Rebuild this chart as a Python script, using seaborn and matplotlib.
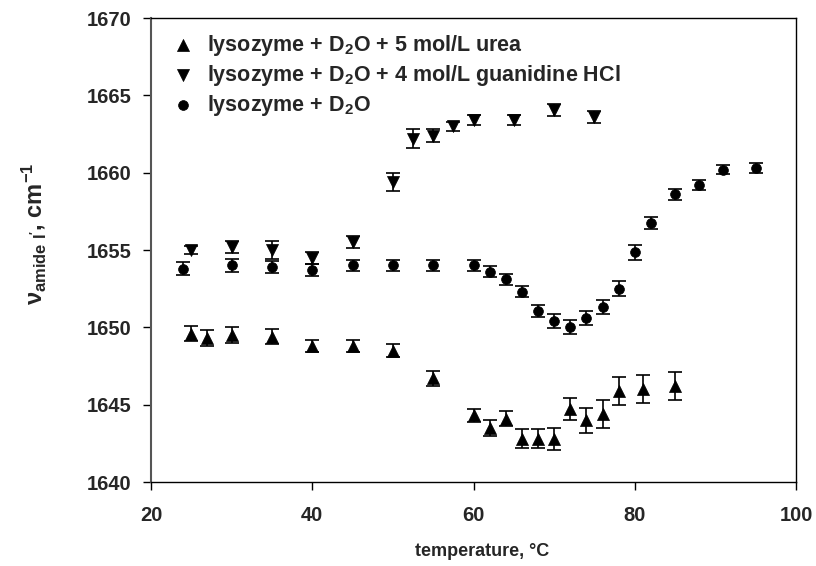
import matplotlib
matplotlib.use("Agg")
import matplotlib.pyplot as plt
import seaborn as sns
import numpy as np
import pandas as pd

# ---- data ----
t_urea = [25, 27, 30, 35, 40, 45, 50, 55, 60, 62, 64, 66, 68, 70, 72, 74, 76, 78, 81, 85]
v_urea = [1649.6, 1649.3, 1649.5, 1649.4, 1648.8, 1648.8, 1648.5, 1646.7, 1644.3, 1643.5,
          1644.1, 1642.8, 1642.8, 1642.8, 1644.7, 1644.0, 1644.4, 1645.9, 1646.0, 1646.2]
e_urea = [0.5, 0.5, 0.5, 0.5, 0.37, 0.37, 0.4, 0.5, 0.45, 0.5,
          0.5, 0.6, 0.6, 0.7, 0.7, 0.8, 0.9, 0.9, 0.9, 0.9]

t_gdn = [25, 30, 35, 40, 45, 50, 52.5, 55, 57.5, 60, 65, 70, 75]
v_gdn = [1655.0, 1655.2, 1655.0, 1654.5, 1655.5, 1659.4, 1662.2, 1662.4, 1663.0, 1663.4,
         1663.4, 1664.05, 1663.6]
e_gdn = [0.25, 0.4, 0.55, 0.4, 0.4, 0.6, 0.6, 0.4, 0.3, 0.3, 0.3, 0.4, 0.4]

t_d2o = [24, 30, 35, 40, 45, 50, 55, 60, 62, 64, 66, 68, 70, 72, 74, 76, 78, 80, 82, 85, 88, 91, 95]
v_d2o = [1653.8, 1654.0, 1653.9, 1653.7, 1654.0, 1654.0, 1654.0, 1654.0, 1653.6, 1653.1,
         1652.3, 1651.05, 1650.4, 1650.05, 1650.6, 1651.3, 1652.5, 1654.85, 1656.75,
         1658.6, 1659.2, 1660.2, 1660.3]
e_d2o = [0.4, 0.4, 0.4, 0.4, 0.35, 0.35, 0.35, 0.35, 0.35, 0.35,
         0.35, 0.4, 0.45, 0.45, 0.45, 0.45, 0.5, 0.5, 0.4, 0.35, 0.3, 0.3, 0.3]

labels = [r"lysozyme + D$_{\mathrm{2}}$O + 5 mol/L urea",
          r"lysozyme + D$_{\mathrm{2}}$O + 4 mol/L guanidine HCl",
          r"lysozyme + D$_{\mathrm{2}}$O"]
x_ticks = [20, 40, 60, 80, 100]
y_ticks = [1640, 1645, 1650, 1655, 1660, 1665, 1670]

sns.set_style("ticks")
plt.rcParams['font.family'] = ['Liberation Sans', 'DejaVu Sans']
plt.rcParams['font.weight'] = 'bold'
plt.rcParams['mathtext.fontset'] = 'custom'
plt.rcParams['mathtext.rm'] = 'Liberation Sans:bold'
plt.rcParams['mathtext.it'] = 'Liberation Sans:bold'
plt.rcParams['mathtext.bf'] = 'Liberation Sans:bold'
plt.rcParams['mathtext.default'] = 'rm'

fig = plt.figure(figsize=(8.16, 5.66), dpi=100)
ax = fig.add_axes([151/816, 1-482/566, (796-151)/816, (482-18)/566])

series = [(t_urea, v_urea, e_urea, "^", 75),
          (t_gdn, v_gdn, e_gdn, "v", 75),
          (t_d2o, v_d2o, e_d2o, "o", 50)]
for (t, v, e, m, s), lab in zip(series, labels):
    df = pd.DataFrame({"t": t, "v": v})
    ax.errorbar(t, v, yerr=e, fmt="none", ecolor="black", elinewidth=1.2,
                capsize=5, capthick=1.2, zorder=2)
    sns.scatterplot(data=df, x="t", y="v", marker=m, color="black", s=s,
                    edgecolor="black", linewidth=0.5, ax=ax, label=lab, zorder=3)

ax.set_xlim(20, 100)
ax.set_ylim(1640, 1670)
ax.set_xticks(x_ticks)
ax.set_yticks(y_ticks)
ax.tick_params(direction="out", length=6, width=1, labelsize=14.5, color="black")
ax.tick_params(axis="x", pad=11)
ax.tick_params(axis="y", pad=8)
for lbl in ax.get_xticklabels() + ax.get_yticklabels():
    lbl.set_fontweight("bold")
for side in ["top", "right", "bottom"]:
    ax.spines[side].set_color("black")
    ax.spines[side].set_linewidth(1.0)
ax.spines["left"].set_color("#555555")
ax.spines["left"].set_linewidth(1.5)

ax.set_xlabel("temperature, °C", fontsize=13, fontweight="bold")
ax.xaxis.set_label_coords((482 - 151) / 645, -(550 - 482) / 464 + 0.015)
ax.set_ylabel(r"ν$_{\mathrm{amide\ I'}}$, cm$^{\mathrm{-1}}$", fontsize=17,
              fontweight="bold")
ax.yaxis.set_label_coords((48 - 151) / 645, (482 - 234) / 464)

leg = ax.legend(loc="upper left", frameon=False, fontsize=15.5, handletextpad=0.3,
                handlelength=1.6, borderaxespad=0.3, labelspacing=0.23,
                markerscale=1.0, bbox_to_anchor=(0.0, 1.0))
for txt in leg.get_texts():
    txt.set_fontweight("bold")

fig.savefig("out.png", dpi=100)
